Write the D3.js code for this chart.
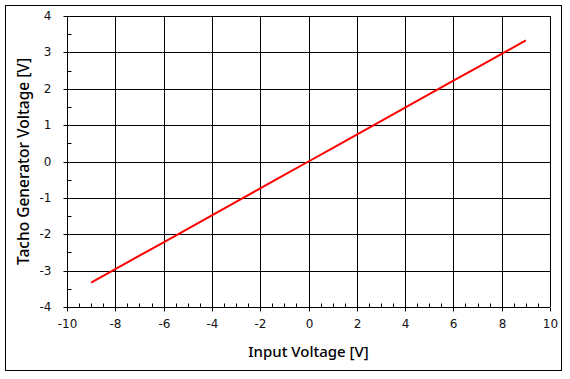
<!DOCTYPE html>
<html><head><meta charset="utf-8">
<script src="https://cdn.jsdelivr.net/npm/d3@7"></script>
<style>html,body{margin:0;padding:0;background:#fff;}</style>
</head><body>
<script>
const inputVoltage = [-9,-8,-7,-6,-5,-4,-3,-2,-1,0,1,2,3,4,5,6,7,8,9];
const tachoVoltage = [-3.33,-2.96,-2.59,-2.22,-1.85,-1.48,-1.11,-0.74,-0.37,0,0.37,0.74,1.11,1.48,1.85,2.22,2.59,2.96,3.33];
const xTicks = [-10,-8,-6,-4,-2,0,2,4,6,8,10];
const yTicks = [-4,-3,-2,-1,0,1,2,3,4];
const xLabel = "Input Voltage [V]";
const yLabel = "Tacho Generator Voltage [V]";

const W = 570, H = 379;
const svg = d3.select("body").append("svg").attr("width", W).attr("height", H);
svg.append("rect").attr("x",5.5).attr("y",5.5).attr("width",556).attr("height",365)
  .attr("fill","#fff").attr("stroke","#000").attr("stroke-width",1);

const L = 67, R = 550, T = 16, B = 307;
const x = d3.scaleLinear().domain([-10,10]).range([L,R]);
const y = d3.scaleLinear().domain([-4,4]).range([B,T]);

const g = svg.append("g");
g.selectAll(".vg").data(xTicks).enter().append("line")
  .attr("x1",d=>Math.round(x(d))+0.5).attr("x2",d=>Math.round(x(d))+0.5)
  .attr("y1",T).attr("y2",B).attr("stroke","#000").attr("stroke-width",1);
g.selectAll(".hg").data(yTicks).enter().append("line")
  .attr("y1",d=>Math.round(y(d))+0.5).attr("y2",d=>Math.round(y(d))+0.5)
  .attr("x1",L).attr("x2",R).attr("stroke","#000").attr("stroke-width",1);

const xMinor = d3.range(-10,10.01,0.5).filter(v=>Math.abs(v%2)>1e-6);
const yMinor = d3.range(-4,4.01,0.5).filter(v=>Math.abs(v%1)>1e-6);
g.selectAll(".xm").data(xMinor).enter().append("line")
  .attr("x1",d=>Math.round(x(d))+0.5).attr("x2",d=>Math.round(x(d))+0.5)
  .attr("y1",B+0.5).attr("y2",B-3.5).attr("stroke","#000");
g.selectAll(".ym").data(yMinor).enter().append("line")
  .attr("y1",d=>Math.round(y(d))+0.5).attr("y2",d=>Math.round(y(d))+0.5)
  .attr("x1",L+0.5).attr("x2",L+4.5).attr("stroke","#000");

const fmt = d => String(d);
const xAxis = d3.axisBottom(x).tickValues(xTicks).tickSize(4).tickPadding(8).tickFormat(fmt);
const yAxis = d3.axisLeft(y).tickValues(yTicks).tickSize(4).tickPadding(12).tickFormat(fmt);
const xa = svg.append("g").attr("transform",`translate(0,${Math.round(B)+0.5})`).call(xAxis);
const ya = svg.append("g").attr("transform",`translate(${Math.round(L)+0.5},0)`).call(yAxis);
[xa,ya].forEach(a=>{
  a.select(".domain").remove();
  a.selectAll(".tick line").attr("stroke","#000");
  a.selectAll(".tick text").attr("font-family","'DejaVu Sans', sans-serif").attr("font-size","12px").attr("fill","#111");
});
xa.selectAll(".tick").attr("transform",d=>`translate(${Math.round(x(d))+0.5},0)`);
ya.selectAll(".tick").attr("transform",d=>`translate(0,${Math.round(y(d))+0.5})`);

const data = inputVoltage.map((v,i)=>[v,tachoVoltage[i]]);
svg.append("path").datum(data)
  .attr("d", d3.line().x(d=>x(d[0])).y(d=>y(d[1])))
  .attr("fill","none").attr("stroke","#ff0000").attr("stroke-width",2);

svg.append("text").attr("x",(L+R)/2).attr("y",357).attr("text-anchor","middle")
  .attr("font-family","'Noto Sans', sans-serif").attr("font-size","15px").attr("font-weight","500").attr("fill","#000")
  .text(xLabel);
svg.append("text").attr("transform",`translate(29,${(T+B)/2}) rotate(-90)`).attr("text-anchor","middle")
  .attr("font-family","'Noto Sans', sans-serif").attr("font-size","15.5px").attr("font-weight","500").attr("fill","#000")
  .text(yLabel);
</script>
</body></html>
